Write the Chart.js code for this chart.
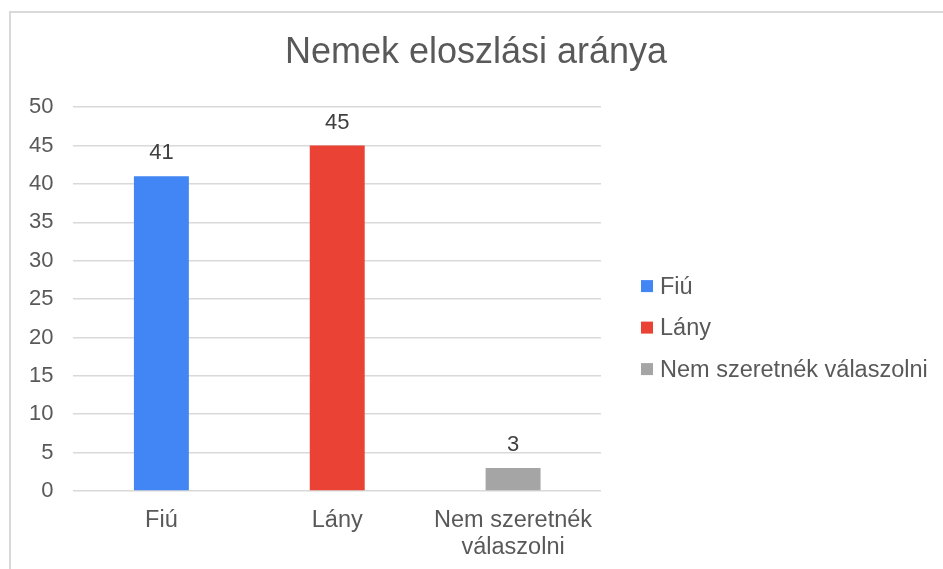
<!DOCTYPE html>
<html>
<head>
<meta charset="utf-8">
<script src="https://cdn.jsdelivr.net/npm/chart.js@4"></script>
<style>
  html, body { margin: 0; padding: 0; background: #fff; overflow: hidden; }
  #frame { position: absolute; left: 9px; top: 11px; width: 960px; height: 600px; border: 2px solid #d9d9d9; box-sizing: border-box; }
  #chart { position: absolute; left: 0; top: 0; }
</style>
</head>
<body>
<div id="frame"></div>
<canvas id="chart" width="943" height="569"></canvas>
<script>
// data
const categories = ['Fiú', 'Lány', 'Nem szeretnék válaszolni'];
const axisLabels = ['Fiú', 'Lány', ['Nem szeretnék', 'válaszolni']];
const counts = [41, 45, 3];
const barColors = ['#4285f4', '#ea4335', '#a5a5a5'];
const yTicks = [0, 5, 10, 15, 20, 25, 30, 35, 40, 45, 50];

const textColor = '#595959';
const fontFamily = '"Liberation Sans", Arial, sans-serif';

// value above each bar
const valueLabels = {
  id: 'valueLabels',
  afterDatasetsDraw(chart) {
    const ctx = chart.ctx;
    const meta = chart.getDatasetMeta(0);
    ctx.save();
    ctx.font = '22px ' + fontFamily;
    ctx.fillStyle = '#404040';
    ctx.textAlign = 'center';
    ctx.textBaseline = 'middle';
    meta.data.forEach((bar, i) => {
      ctx.fillText(String(counts[i]), bar.x, bar.y - 23);
    });
    ctx.restore();
  }
};

// legend on the right (the built-in one is capped at a quarter of the width)
const sideLegend = {
  id: 'sideLegend',
  afterDraw(chart) {
    const ctx = chart.ctx;
    const area = chart.chartArea;
    const x = area.right + 40;
    const y0 = (area.top + area.bottom) / 2 - 13;
    ctx.save();
    ctx.font = '23.5px ' + fontFamily;
    ctx.textBaseline = 'middle';
    ctx.textAlign = 'left';
    categories.forEach((c, i) => {
      const y = y0 + i * 41.5;
      ctx.fillStyle = barColors[i];
      ctx.fillRect(x, y - 6, 12, 12);
      ctx.fillStyle = textColor;
      ctx.fillText(c, x + 19, y + 1);
    });
    ctx.restore();
  }
};

new Chart(document.getElementById('chart'), {
  type: 'bar',
  data: {
    labels: axisLabels,
    datasets: [{
      label: 'Nemek',
      data: counts,
      backgroundColor: barColors,
      barPercentage: 0.3125,
      categoryPercentage: 1
    }]
  },
  options: {
    responsive: false,
    animation: false,
    layout: { padding: { left: 9, right: 0, top: 0, bottom: -9 } },
    plugins: {
      title: {
        display: true,
        text: 'Nemek eloszlási aránya',
        color: textColor,
        font: { family: fontFamily, size: 36, weight: 'normal' },
        padding: { top: 31, bottom: 33 }
      },
      legend: { display: false },
      tooltip: { enabled: false }
    },
    scales: {
      x: {
        grid: { display: false, drawTicks: false },
        border: { display: false },
        ticks: {
          color: textColor,
          padding: 16.5,
          maxRotation: 0,
          font: { family: fontFamily, size: 23.5, lineHeight: '27px' }
        }
      },
      y: {
        min: 0,
        max: 50,
        afterBuildTicks: axis => { axis.ticks = yTicks.map(v => ({ value: v })); },
        grid: { color: '#d9d9d9', lineWidth: 1.5, drawTicks: false },
        border: { display: false },
        ticks: {
          color: textColor,
          padding: 20,
          font: { family: fontFamily, size: 22 }
        }
      },
      // empty axis that only reserves room for the legend
      side: {
        position: 'right',
        grid: { display: false, drawTicks: false },
        border: { display: false },
        ticks: { display: false },
        afterFit: axis => { axis.width = 342; }
      }
    }
  },
  plugins: [valueLabels, sideLegend]
});
</script>
</body>
</html>
